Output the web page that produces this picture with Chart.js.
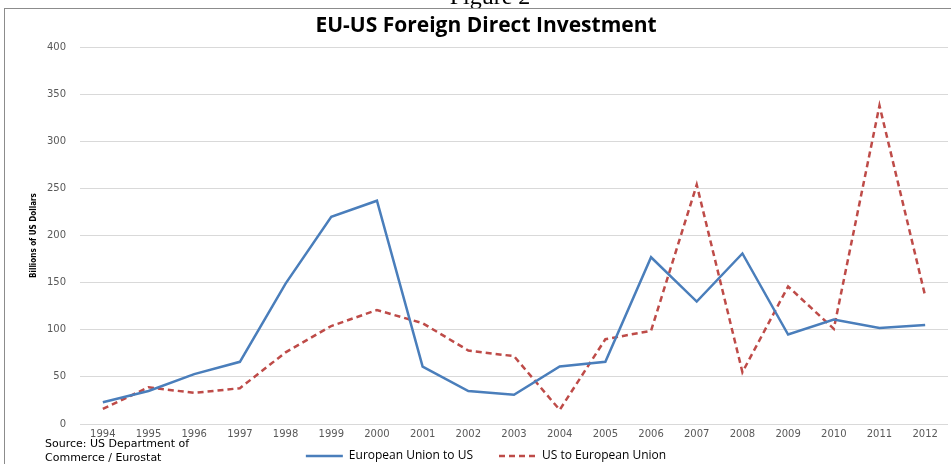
<!DOCTYPE html>
<html>
<head>
<meta charset="utf-8">
<script src="https://cdn.jsdelivr.net/npm/chart.js@4.4.1/dist/chart.umd.min.js"></script>
<style>
  html, body { margin: 0; padding: 0; background: #fff; }
  #wrap { width: 951px; height: 464px; position: relative; }
</style>
</head>
<body>
<div id="wrap"><canvas id="fdi"></canvas></div>
<script>
// Data (billions of US dollars)
const years = ['1994', '1995', '1996', '1997', '1998', '1999', '2000', '2001', '2002', '2003',
  '2004', '2005', '2006', '2007', '2008', '2009', '2010', '2011', '2012'];
const euToUs = [23, 35, 53, 66, 149, 220, 237, 61, 35, 31, 61, 66, 177, 130, 181, 95, 111, 102, 105];
const usToEu = [16, 39, 33, 38, 76, 104, 121, 107, 78, 72, 15, 90, 99, 254, 55, 146, 101, 338, 136];
const yTicks = [0, 50, 100, 150, 200, 250, 300, 350, 400];

const tickColor = '#595959';
const gridColor = '#d9d9d9';

// Frame, cut-off "Figure 2" heading and source note
const extrasPlugin = {
  id: 'extras',
  beforeDraw: (chart) => {
    const ctx = chart.ctx;
    ctx.save();
    ctx.fillStyle = '#fff';
    ctx.fillRect(0, 0, chart.width, chart.height);
    ctx.fillStyle = '#000';
    ctx.font = '24px "Liberation Serif", serif';
    ctx.textAlign = 'center';
    ctx.textBaseline = 'alphabetic';
    ctx.fillText('Figure 2', 490, 4);
    ctx.strokeStyle = '#8c8c8c';
    ctx.lineWidth = 1;
    ctx.strokeRect(4.5, 8.5, 980, 480);
    ctx.restore();
  },
  afterDraw: (chart) => {
    const ctx = chart.ctx;
    ctx.save();
    ctx.fillStyle = '#000';
    ctx.font = '11px "DejaVu Sans", sans-serif';
    ctx.textAlign = 'left';
    ctx.textBaseline = 'middle';
    ctx.fillText('Source: US Department of', 45, 444);
    ctx.fillText('Commerce / Eurostat', 45, 458);
    ctx.restore();
  }
};

new Chart(document.getElementById('fdi'), {
  type: 'line',
  data: {
    labels: years,
    datasets: [
      {
        label: 'European Union to US',
        data: euToUs,
        borderColor: '#4a7ebb',
        backgroundColor: '#4a7ebb',
        borderWidth: 2.5,
        pointRadius: 0,
        tension: 0
      },
      {
        label: 'US to European Union',
        data: usToEu,
        borderColor: '#be4b48',
        backgroundColor: '#be4b48',
        borderWidth: 2.5,
        borderDash: [6, 4],
        pointRadius: 0,
        tension: 0
      }
    ]
  },
  options: {
    responsive: true,
    maintainAspectRatio: false,
    animation: false,
    layout: { padding: { left: 24, right: 3, top: 0, bottom: -8 } },
    plugins: {
      title: {
        display: true,
        text: 'EU-US Foreign Direct Investment',
        color: '#000',
        font: { family: "'Open Sans', sans-serif", size: 21, weight: 'bold' },
        padding: { top: 13, bottom: 9 }
      },
      legend: {
        position: 'bottom',
        labels: {
          usePointStyle: true,
          pointStyle: 'line',
          pointStyleWidth: 37,
          boxHeight: 10,
          color: '#000',
          font: { family: "'Open Sans', sans-serif", size: 12 },
          padding: 2,
          generateLabels: (chart) => {
            const items = Chart.defaults.plugins.legend.labels.generateLabels(chart);
            items.forEach((item, i) => {
              // point style labels take the point's style, so copy the line's dash and width
              const ds = chart.data.datasets[i];
              item.lineDash = ds.borderDash || [];
              item.lineWidth = ds.borderWidth;
            });
            // wider gap between the two entries, as in the reference
            items[0].text = items[0].text + '\u2003\u2003';
            return items;
          }
        }
      },
      tooltip: { enabled: false }
    },
    scales: {
      x: {
        offset: true,
        afterFit: (scale) => { scale.height = 24; },
        grid: { display: false, drawTicks: false },
        border: { display: false },
        ticks: {
          color: tickColor,
          font: { family: "'DejaVu Sans', sans-serif", size: 10 },
          maxRotation: 0,
          autoSkip: false,
          padding: 4
        }
      },
      y: {
        min: 0,
        max: 400,
        afterFit: (scale) => { scale.width = 56; },
        afterBuildTicks: (scale) => { scale.ticks = yTicks.map(v => ({ value: v })); },
        grid: { color: gridColor, lineWidth: 1, drawTicks: false },
        border: { display: false },
        ticks: {
          color: tickColor,
          font: { family: "'DejaVu Sans', sans-serif", size: 10 },
          padding: 14
        },
        title: {
          display: true,
          text: 'Billions of US Dollars',
          color: '#000',
          font: { family: "'Liberation Sans Narrow', 'DejaVu Sans Condensed', sans-serif", size: 8, weight: 'bold' },
          padding: { top: 5, bottom: 0 }
        }
      }
    }
  },
  plugins: [extrasPlugin]
});
</script>
</body>
</html>
